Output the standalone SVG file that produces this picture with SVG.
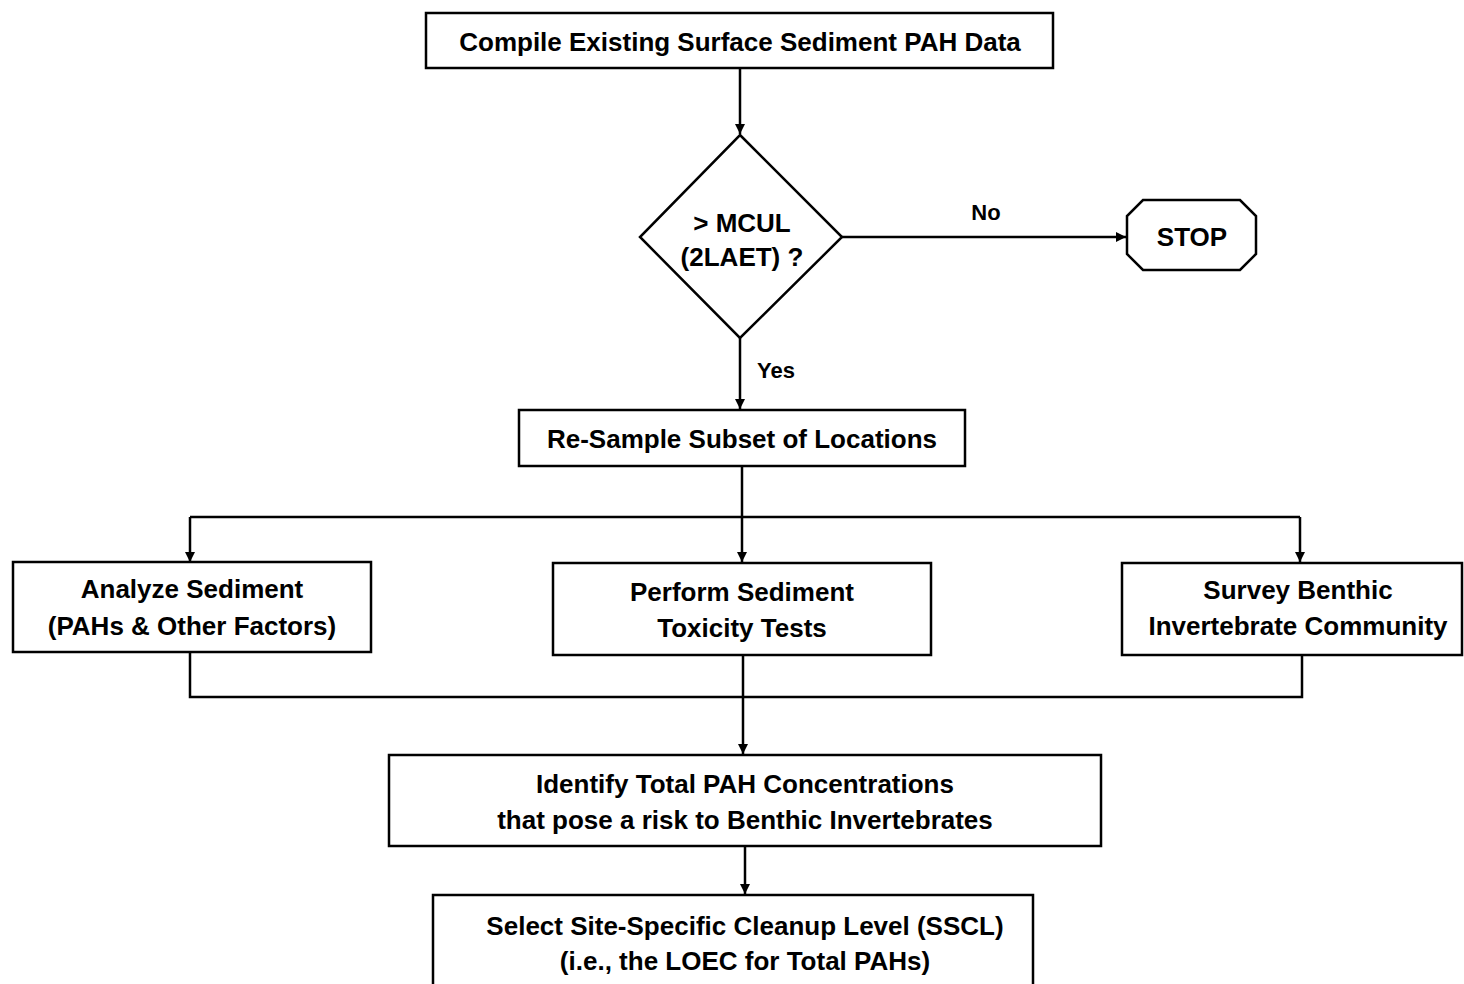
<svg xmlns="http://www.w3.org/2000/svg" width="1464" height="984" viewBox="0 0 1464 984">
<defs>
<marker id="ah" viewBox="0 0 10 10" refX="10" refY="5" markerWidth="12" markerHeight="10" orient="auto" markerUnits="userSpaceOnUse">
<path d="M0,0 L10,5 L0,10 z" fill="#000"/>
</marker>
<style>
.box{fill:#fff;stroke:#000;stroke-width:2.5}
.t{font-family:"Liberation Sans",Arial,sans-serif;font-weight:bold;font-size:26px;fill:#000;text-anchor:middle}
.c{fill:none;stroke:#000;stroke-width:2.5}
</style>
</defs>
<rect width="1464" height="984" fill="#fff"/>
<g id="connectors">
<path class="c" d="M740,68 V134" marker-end="url(#ah)"/>
<path class="c" d="M842,237 H1126" marker-end="url(#ah)"/>
<path class="c" d="M740,338 V409" marker-end="url(#ah)"/>
<path class="c" d="M742,466 V517"/>
<path class="c" d="M190,517 H1300"/>
<path class="c" d="M190,517 V562" marker-end="url(#ah)"/>
<path class="c" d="M742,517 V562" marker-end="url(#ah)"/>
<path class="c" d="M1300,517 V562" marker-end="url(#ah)"/>
<path class="c" d="M190,652 V697 H1302 V655"/>
<path class="c" d="M743,655 V754" marker-end="url(#ah)"/>
<path class="c" d="M745,846 V894" marker-end="url(#ah)"/>
<text class="t" x="986" y="220" style="font-size:22px">No</text>
<text class="t" x="776" y="378" style="font-size:22px">Yes</text>
</g>
<g id="n1">
<rect class="box" x="426" y="13" width="627" height="55"/>
<text class="t" x="740" y="51">Compile Existing Surface Sediment PAH Data</text>
</g>
<g id="n2">
<polygon class="box" points="740,135 842,237 740,338 640,237"/>
<text class="t" x="742" y="232">&gt; MCUL</text>
<text class="t" x="742" y="266">(2LAET) ?</text>
</g>
<g id="n3">
<polygon class="box" points="1143,200 1240,200 1256,216 1256,254 1240,270 1143,270 1127,254 1127,216"/>
<text class="t" x="1192" y="246">STOP</text>
</g>
<g id="n4">
<rect class="box" x="519" y="410" width="446" height="56"/>
<text class="t" x="742" y="448">Re-Sample Subset of Locations</text>
</g>
<g id="n5">
<rect class="box" x="13" y="562" width="358" height="90"/>
<text class="t" x="192" y="598">Analyze Sediment</text>
<text class="t" x="192" y="635">(PAHs &amp; Other Factors)</text>
</g>
<g id="n6">
<rect class="box" x="553" y="563" width="378" height="92"/>
<text class="t" x="742" y="601">Perform Sediment</text>
<text class="t" x="742" y="637">Toxicity Tests</text>
</g>
<g id="n7">
<rect class="box" x="1122" y="563" width="340" height="92"/>
<text class="t" x="1298" y="599">Survey Benthic</text>
<text class="t" x="1298" y="635">Invertebrate Community</text>
</g>
<g id="n8">
<rect class="box" x="389" y="755" width="712" height="91"/>
<text class="t" x="745" y="793">Identify Total PAH Concentrations</text>
<text class="t" x="745" y="829">that pose a risk to Benthic Invertebrates</text>
</g>
<g id="n9">
<rect class="box" x="433" y="895" width="600" height="100"/>
<text class="t" x="745" y="935">Select Site-Specific Cleanup Level (SSCL)</text>
<text class="t" x="745" y="970">(i.e., the LOEC for Total PAHs)</text>
</g>
</svg>
